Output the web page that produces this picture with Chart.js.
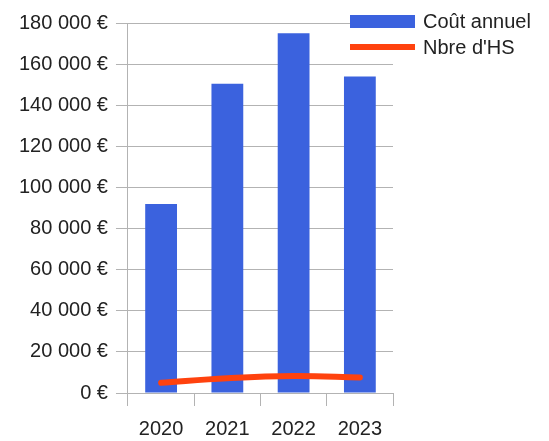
<!DOCTYPE html>
<html lang="fr">
<head>
<meta charset="utf-8">
<title>Coût annuel</title>
<script src="https://cdn.jsdelivr.net/npm/chart.js@4/dist/chart.umd.min.js"></script>
<style>
    html, body { margin: 0; padding: 0; background: #fff; }
    #wrap { position: relative; width: 549px; height: 441px; }
    #legend {
        position: absolute; left: 350px; top: 8px;
        font-family: "Liberation Sans", Arial, sans-serif; font-size: 20px; color: #222;
    }
    #legend .row { display: flex; align-items: center; height: 26px; }
    #legend .sw { width: 65px; margin-right: 8px; }
</style>
</head>
<body>
<div id="wrap">
    <canvas id="costChart" width="549" height="441"></canvas>
    <div id="legend"></div>
</div>
<script>
    const years = ['2020', '2021', '2022', '2023'];
    const coutAnnuel = [92000, 150500, 175000, 154000];
    const nbreHS = [5000, 7200, 8300, 7600];
    const yMax = 180000;
    const yStep = 20000;

    const BLUE = '#3b62de';
    const RED = '#ff420e';
    const GRID = '#b3b3b3';

    // 180000 -> "180 000 €"
    function euro(v) {
        return String(v).replace(/\B(?=(\d{3})+(?!\d))/g, ' ') + ' €';
    }

    Chart.defaults.font.family = '"Liberation Sans", Arial, sans-serif';
    Chart.defaults.font.size = 20;
    Chart.defaults.color = '#222';

    const ctx = document.getElementById('costChart').getContext('2d');
    const costChart = new Chart(ctx, {
        type: 'bar',
        data: {
            labels: years,
            datasets: [{
                label: 'Coût annuel',
                data: coutAnnuel,
                backgroundColor: BLUE,
                borderWidth: 0,
                barPercentage: 0.48,
                categoryPercentage: 1,
                order: 1
            }, {
                type: 'line',
                label: "Nbre d'HS",
                data: nbreHS,
                borderColor: RED,
                backgroundColor: RED,
                borderWidth: 6,
                borderCapStyle: 'round',
                pointRadius: 0,
                tension: 0.4,
                order: 0
            }]
        },
        options: {
            responsive: false,
            animation: false,
            layout: {
                padding: { left: 11, right: 156, top: 23, bottom: -11 }
            },
            plugins: {
                legend: { display: false },
                tooltip: { enabled: false }
            },
            scales: {
                x: {
                    grid: {
                        offset: true,
                        tickLength: 13,
                        // only the closing line on the right crosses the plot
                        color: (c) => c.index === years.length ? GRID : 'rgba(0,0,0,0)',
                        tickColor: GRID
                    },
                    border: { color: GRID },
                    ticks: { padding: 11 }
                },
                y: {
                    min: 0,
                    max: yMax,
                    grid: { color: GRID, tickLength: 12 },
                    border: { color: GRID },
                    ticks: {
                        stepSize: yStep,
                        padding: 8,
                        callback: (v) => euro(v)
                    }
                }
            }
        }
    });

    // legend built from the datasets
    const legendEl = document.getElementById('legend');
    costChart.data.datasets.forEach(ds => {
        const row = document.createElement('div');
        row.className = 'row';
        const sw = document.createElement('span');
        sw.className = 'sw';
        sw.style.background = ds.type === 'line' ? ds.borderColor : ds.backgroundColor;
        sw.style.height = ds.type === 'line' ? '6px' : '13px';
        const txt = document.createElement('span');
        txt.textContent = ds.label;
        row.appendChild(sw);
        row.appendChild(txt);
        legendEl.appendChild(row);
    });
</script>
</body>
</html>
